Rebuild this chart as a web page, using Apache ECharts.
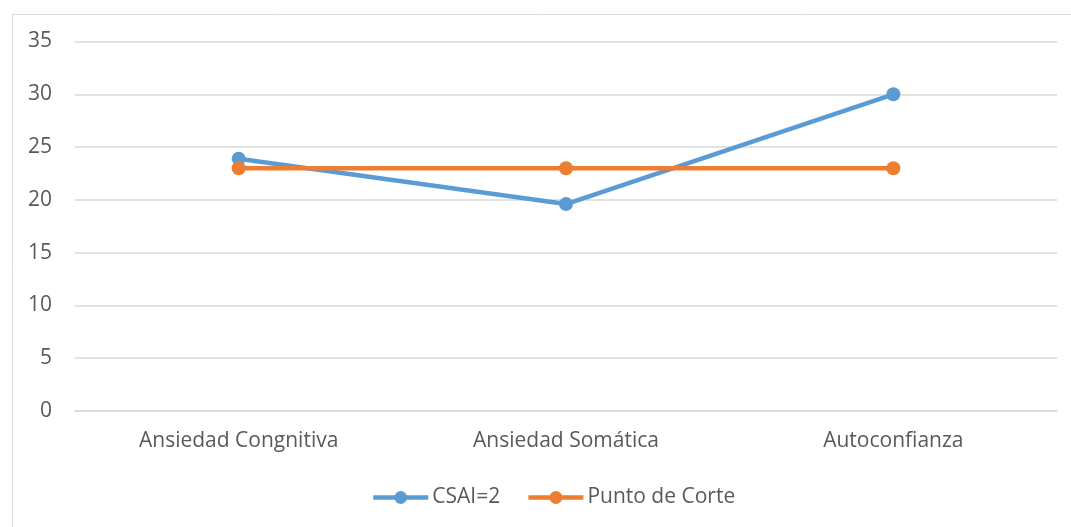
<!DOCTYPE html>
<html><head><meta charset="utf-8">
<script src="https://cdn.jsdelivr.net/npm/echarts@6/dist/echarts.min.js"></script>
<style>html,body{margin:0;padding:0;background:#fff}#c{width:1071px;height:527px}</style>
</head><body><div id="c"></div>
<script>
const categories = ['Ansiedad Congnitiva', 'Ansiedad Somática', 'Autoconfianza'];
const csai = [23.9, 19.6, 30.0];
const corte = [23, 23, 23];
const yTicks = [0, 5, 10, 15, 20, 25, 30, 35];

const font = 'Open Sans, Liberation Sans, sans-serif';
const chart = echarts.init(document.getElementById('c'), null, {renderer: 'canvas'});
chart.setOption({
  animation: false,
  backgroundColor: '#fff',
  graphic: [{type: 'rect', left: 10, top: 12, shape: {width: 1100, height: 560}, style: {fill: 'none', stroke: '#d9d9d9', lineWidth: 1}, z: -1}],
  grid: {left: 75, right: 14, top: 41.5, bottom: 116, containLabel: false},
  legend: {
    top: 482, left: 366, itemGap: 26, itemWidth: 55, itemHeight: 16,
    textStyle: {color: '#595959', fontSize: 21, fontFamily: font, padding: [0, 0, 0, -1]},
    lineStyle: {width: 4.5},
    data: ['CSAI=2', 'Punto de Corte']
  },
  xAxis: {
    type: 'category', data: categories, boundaryGap: true,
    axisLine: {lineStyle: {color: '#d9d9d9', width: 1.5}},
    axisTick: {show: false},
    axisLabel: {color: '#595959', fontSize: 21, fontFamily: font, margin: 20}
  },
  yAxis: {
    type: 'value', min: yTicks[0], max: yTicks[yTicks.length - 1], interval: 5,
    axisLine: {show: false}, axisTick: {show: false},
    axisLabel: {color: '#595959', fontSize: 21, fontFamily: font, margin: 23},
    splitLine: {lineStyle: {color: '#d9d9d9', width: 1.5}}
  },
  series: [
    {name: 'CSAI=2', type: 'line', data: csai, symbol: 'circle', symbolSize: 14,
     lineStyle: {color: '#5B9BD5', width: 4.5}, itemStyle: {color: '#5B9BD5'}},
    {name: 'Punto de Corte', type: 'line', data: corte, symbol: 'circle', symbolSize: 14,
     lineStyle: {color: '#ED7D31', width: 4.5}, itemStyle: {color: '#ED7D31'}}
  ]
});
</script></body></html>
